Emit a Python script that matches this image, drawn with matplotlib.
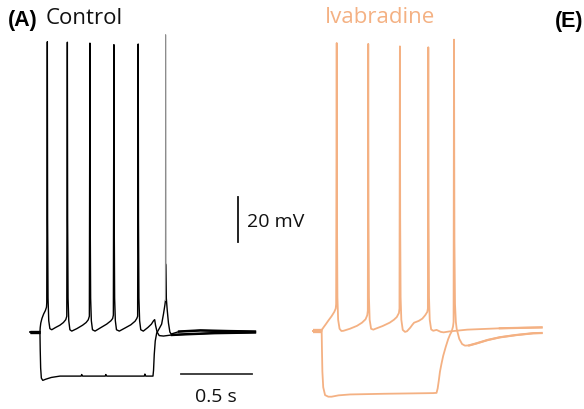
import numpy as np
import matplotlib.pyplot as plt

black = '#000000'
orange = '#f4b183'
label_font = 'Open Sans'

# Control, depolarizing step (time ms, membrane potential mV)
ctrl_dep_t = [0, 70, 72, 76, 84, 96, 108, 116, 118, 122, 124, 127, 132, 140, 153,
              180, 210, 235, 252, 259, 263, 265, 268, 273, 281, 294,
              330, 370, 395, 410, 418, 422, 424, 427, 432, 440, 458,
              500, 540, 570, 582, 587, 591, 593, 596, 601, 609, 629,
              670, 710, 740, 752, 758, 762, 764, 767, 772, 780, 798,
              830, 855, 870, 878, 884, 895, 910, 940, 1000, 1100, 1300, 1584]
ctrl_dep_v = [-70, -70, -68, -66, -64, -62, -60.5, -59, -57, 59.0, -20, -55, -65, -68.5, -69,
              -68, -67, -65.8, -64.5, -63, 58.8, -20, -55, -65, -69, -69.6,
              -68.5, -67, -65.8, -64.6, -63, 58.4, -20, -55, -65, -69, -69.6,
              -68, -66.5, -65, -64, -62.5, 57.7, -20, -55, -65, -69, -69.6,
              -68.2, -66.8, -65.2, -64, -63, 58.0, -20, -55, -65, -69, -69.6,
              -68, -66.5, -65, -64.5, -67, -70, -71.6, -71.8, -71.3, -71, -70.5, -70.2]

# Control, hyperpolarizing step
ctrl_hyp_t = [0, 70, 72, 75, 80, 90, 110, 150, 211, 360, 364, 370, 530, 534, 540, 805, 809,
              815, 866, 870, 875, 882, 892, 910, 927, 940, 950, 954, 955, 957, 960, 966,
              975, 985, 994, 1050, 1200, 1400, 1584]
ctrl_hyp_v = [-70, -70, -78, -86, -90.5, -91.5, -91, -90.2, -89.6, -89.6, -88.9, -89.6, -89.6,
              -88.9, -89.6, -89.6, -88.7, -89.6, -89.6, -87, -80, -74, -70.5, -68.5, -66.5, -62,
              -58, -56, 62.1, -40, -55, -60, -66, -70, -70.9, -69.8, -69.3, -69.6, -69.8]

# Ivabradine, depolarizing step
ivab_dep_t = [0, 61, 64, 75, 90, 110, 130, 150, 160, 163, 167, 169, 172, 177, 187, 200, 215,
              260, 310, 345, 370, 382, 386, 389, 391, 394, 399, 409, 425, 440,
              490, 540, 570, 590, 605, 609, 612, 614, 617, 622, 632, 648, 662,
              685, 700, 712, 725, 745, 770, 790, 805, 809, 812, 814, 817, 822, 832, 847, 870,
              880, 900, 920, 960, 1086, 1316, 1610]
ivab_dep_v = [-70, -70, -69.3, -68.3, -67, -65.2, -63.5, -61.5, -60, -58, 58.0, -20, -55, -65,
              -69, -70, -69.9,
              -69, -67.7, -66.3, -64.8, -63, -61, 57.6, -20, -55, -65, -69, -69.4, -69,
              -67.8, -66.3, -65, -63.8, -62, -60, 56.5, -20, -55, -65, -69.5, -70.4, -70.1,
              -68.5, -67.2, -66.3, -66, -65.5, -64.5, -63, -61.5, -60, 56.1, -20, -55, -65,
              -69.3, -69.9, -69.5,
              -69.8, -70.4, -70.6, -70.2, -69.4, -68.8, -68.4]

# Ivabradine, hyperpolarizing step
ivab_hyp_t = [0, 61, 63, 66, 72, 85, 108, 131, 180, 261, 500, 845, 870, 878, 886, 894, 905,
              917, 935, 952, 965, 976, 986, 990, 993, 996, 1000, 1006, 1012, 1030, 1050, 1070,
              1100, 1152, 1230, 1316, 1430, 1551, 1610]
ivab_hyp_v = [-70, -70, -78, -88, -95, -98.5, -99.2, -99.2, -98.6, -98.2, -97.9, -97.6, -97.5,
              -95.5, -92, -88.1, -84.5, -81, -77, -73.6, -71.6, -70.3, -68, -66, 59.5, -30, -58,
              -66, -69.1, -73.5, -75.8, -76.5, -76.4, -75.5, -74, -72.8, -71.8, -71.0, -70.9]

W, H = 584, 410
PX_PER_MS = 71 / 500        # 0.5 s bar is ~71 px
PX_PER_MV = 45 / 20         # 20 mV bar is ~45 px

fig = plt.figure(figsize=(W / 100, H / 100), dpi=100)


def panel(x0, x1, x_origin, y_rest, y0=20, y1=405):
    # axes placed in a pixel box, data origin (0 ms, -70 mV) at (x_origin, y_rest)
    ax = fig.add_axes([x0 / W, 1 - y1 / H, (x1 - x0) / W, (y1 - y0) / H])
    t_left = (x0 - x_origin) / PX_PER_MS
    v_top = -70 + (y_rest - y0) / PX_PER_MV
    ax.set_xlim(t_left, t_left + (x1 - x0) / PX_PER_MS)
    ax.set_ylim(v_top - (y1 - y0) / PX_PER_MV, v_top)
    ax.axis('off')
    return ax


def draw(ax, t, v, color, lw, onset, settle, tail_lw, spike=None, spike_color=None):
    t = np.array(t)
    v = np.array(v)
    if spike is None:
        ax.plot(t, v, color=color, lw=lw)
    else:
        a = t <= spike[0]
        b = t >= spike[1]
        c = (t >= spike[0]) & (t <= spike[1])
        ax.plot(t[a], v[a], color=color, lw=lw)
        ax.plot(t[b], v[b], color=color, lw=lw)
        ax.plot(t[c], v[c], color=spike_color, lw=lw * 0.8)
    # noisy baseline looks thicker
    pre = t <= onset
    post = t >= settle
    ax.plot(t[pre], v[pre], color=color, lw=lw * 2.3, solid_capstyle='butt')
    ax.plot(t[post], v[post], color=color, lw=tail_lw)


axA = panel(20, 290, 30, 333)
draw(axA, ctrl_dep_t, ctrl_dep_v, black, 1.0, 70, 1000, 1.8)
draw(axA, ctrl_hyp_t, ctrl_hyp_v, black, 1.0, 70, 1000, 1.8,
     spike=(954, 957), spike_color='#8c8c8c')

# scale bars
axA.plot([1060, 1560], [-88.7, -88.7], color='#333333', lw=1.3)
axA.plot([1464, 1464], [-10, -30], color='#111111', lw=1.3)
axA.text(1310, -100.7, '0.5 s', ha='center', va='baseline', fontsize=14,
         family=label_font, color='#111111')
axA.text(1528, -22.9, '20 mV', ha='left', va='baseline', fontsize=14,
         family=label_font, color='#111111')

axB = panel(300, 575, 313, 332)
draw(axB, ivab_dep_t, ivab_dep_v, orange, 1.3, 61, 1100, 1.6)
draw(axB, ivab_hyp_t, ivab_hyp_v, orange, 1.3, 61, 1100, 1.6)

# panel titles
fig.text(8 / W, 1 - 26 / H, '(A)', fontsize=15.5, fontweight='bold',
         family='Liberation Sans', va='baseline', ha='left')
fig.text(46 / W, 1 - 24 / H, 'Control', fontsize=16, family=label_font,
         va='baseline', ha='left', color='#111111')
fig.text(325 / W, 1 - 23 / H, 'Ivabradine', fontsize=16, family=label_font,
         va='baseline', ha='left', color=orange)
fig.text(555 / W, 1 - 27 / H, '(E)', fontsize=15.5, fontweight='bold',
         family='Liberation Sans', va='baseline', ha='left')

fig.savefig('out.png', dpi=100)
